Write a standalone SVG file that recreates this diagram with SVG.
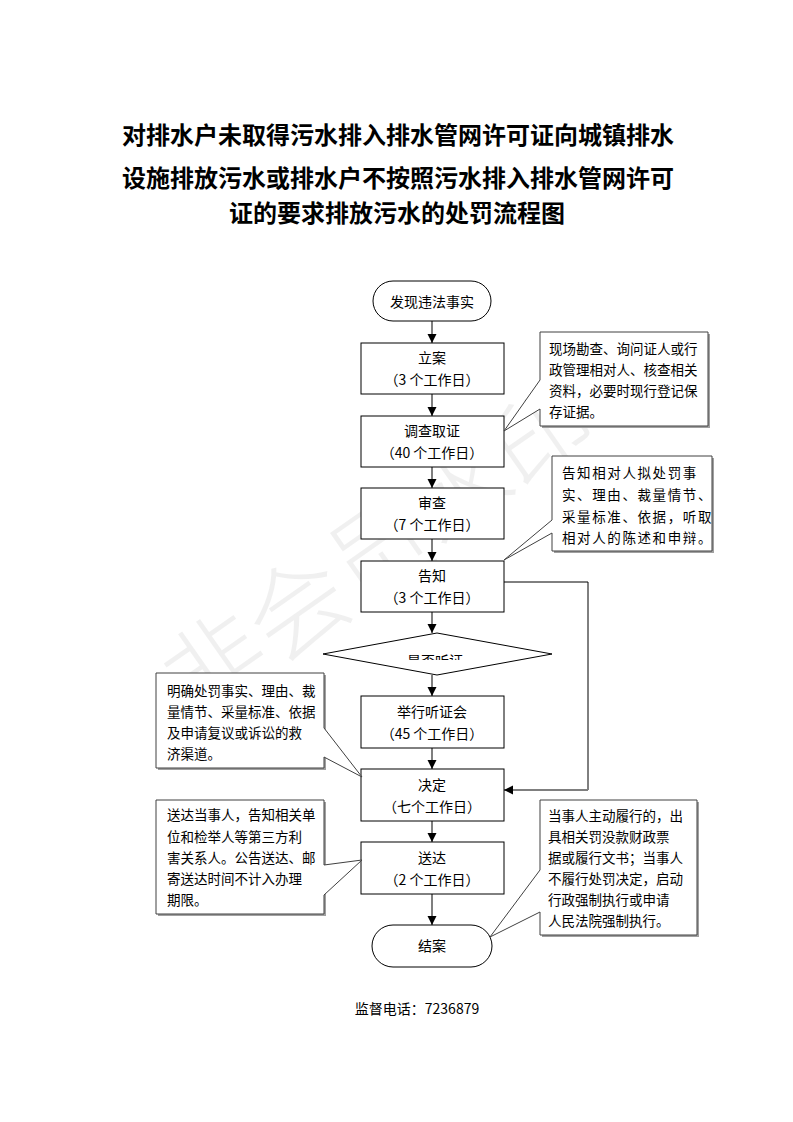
<svg xmlns="http://www.w3.org/2000/svg" width="793" height="1122" viewBox="0 0 793 1122">
<defs>
<style>
text{font-family:"Noto Sans CJK SC","Liberation Sans",sans-serif;fill:#000}
.title{font-size:24px;font-weight:bold;text-anchor:middle}
.t{font-size:14px;text-anchor:middle}
.c{font-size:13.5px}
.box{fill:#fff;stroke:#000;stroke-width:1}
.co{fill:#fff;stroke:#404040;stroke-width:1}
.sh{fill:#a0a0a0;stroke:none}
.flow{stroke:#7f7f7f;stroke-width:2;fill:none}
.thin{stroke:#000;stroke-width:1;fill:none}
.wm{font-size:100px;fill:#000;fill-opacity:0.06;text-anchor:middle;font-weight:300}
</style>
<marker id="ah" markerUnits="userSpaceOnUse" markerWidth="9" markerHeight="10" refX="9" refY="5" orient="auto">
<path d="M0,0.5 L9,5 L0,9.5 Z" fill="#000"/>
</marker>
<clipPath id="dclip"><rect x="300" y="600" width="300" height="60"/></clipPath>
</defs>
<rect width="793" height="1122" fill="#fff"/>
<text class="wm" transform="translate(400,580) rotate(-35)">非会员水印</text>

<g id="title">
<text class="title" x="398" y="144">对排水户未取得污水排入排水管网许可证向城镇排水</text>
<text class="title" x="398" y="187">设施排放污水或排水户不按照污水排入排水管网许可</text>
<text class="title" x="397" y="222">证的要求排放污水的处罚流程图</text>
</g>

<g id="connectors">
<line class="flow" x1="432" y1="321" x2="432" y2="343" marker-end="url(#ah)"/>
<line class="flow" x1="432" y1="394" x2="432" y2="416" marker-end="url(#ah)"/>
<line class="flow" x1="432" y1="467" x2="432" y2="488" marker-end="url(#ah)"/>
<line class="flow" x1="432" y1="539" x2="432" y2="561" marker-end="url(#ah)"/>
<line class="flow" x1="432" y1="612" x2="432" y2="633" marker-end="url(#ah)"/>
<line class="flow" x1="432" y1="675" x2="432" y2="696" marker-end="url(#ah)"/>
<line class="flow" x1="432" y1="748" x2="432" y2="769" marker-end="url(#ah)"/>
<line class="flow" x1="432" y1="821" x2="432" y2="842" marker-end="url(#ah)"/>
<line class="flow" x1="432" y1="894" x2="432" y2="925" marker-end="url(#ah)"/>
<polyline class="thin" points="504,582 588,582 588,790"/>
<line class="flow" x1="588" y1="790" x2="504" y2="790" marker-end="url(#ah)"/>
</g>

<g id="start">
<rect class="box" x="373" y="281" width="118" height="40" rx="20" ry="20"/>
<text class="t" x="432" y="307">发现违法事实</text>
</g>
<g id="lian">
<rect class="box" x="361" y="343" width="143" height="51"/>
<text class="t" x="432" y="363">立案</text>
<text class="t" x="432" y="385">（3 个工作日）</text>
</g>
<g id="diaocha">
<rect class="box" x="361" y="416" width="143" height="51"/>
<text class="t" x="432" y="436">调查取证</text>
<text class="t" x="432" y="458">（40 个工作日）</text>
</g>
<g id="shencha">
<rect class="box" x="361" y="488" width="143" height="51"/>
<text class="t" x="432" y="508">审查</text>
<text class="t" x="432" y="530">（7 个工作日）</text>
</g>
<g id="gaozhi">
<rect class="box" x="361" y="561" width="143" height="51"/>
<text class="t" x="432" y="581">告知</text>
<text class="t" x="432" y="603">（3 个工作日）</text>
</g>
<g id="decision">
<polygon class="box" points="437,633 552,654 437,675 323,654"/>
<text class="t" x="435" y="666" clip-path="url(#dclip)">是否听证</text>
</g>
<g id="tingzheng">
<rect class="box" x="361" y="696" width="143" height="52"/>
<text class="t" x="432" y="717">举行听证会</text>
<text class="t" x="432" y="739">（45 个工作日）</text>
</g>
<g id="jueding">
<rect class="box" x="361" y="769" width="143" height="52"/>
<text class="t" x="432" y="790">决定</text>
<text class="t" x="432" y="812">（七个工作日）</text>
</g>
<g id="songda">
<rect class="box" x="361" y="842" width="143" height="52"/>
<text class="t" x="432" y="863">送达</text>
<text class="t" x="432" y="885">（2 个工作日）</text>
</g>
<g id="end">
<rect class="box" x="372" y="925" width="120" height="42" rx="21" ry="21"/>
<text class="t" x="432" y="951">结案</text>
</g>

<g id="note1">
<path class="sh" d="M542,334 H710 V428 H542 Z"/>
<path class="co" d="M540,332 H708 V426 H540 V409 L504,431 L540,380 Z"/>
<text class="c" x="549" y="354">现场勘查、询问证人或行</text>
<text class="c" x="549" y="375">政管理相对人、核查相关</text>
<text class="c" x="549" y="396">资料，必要时现行登记保</text>
<text class="c" x="549" y="417">存证据。</text>
</g>
<g id="note2">
<path class="sh" d="M554,458 H714 V553 H554 Z"/>
<path class="co" d="M552,456 H712 V551 H552 V533 L504,560 L552,520 Z"/>
<text class="c" x="562" y="478" letter-spacing="1.6">告知相对人拟处罚事</text>
<text class="c" x="562" y="500" letter-spacing="1.6">实、理由、裁量情节、</text>
<text class="c" x="562" y="522" letter-spacing="1.6">采量标准、依据，听取</text>
<text class="c" x="562" y="543" letter-spacing="1.6">相对人的陈述和申辩。</text>
</g>
<g id="note3">
<path class="sh" d="M158,675 H326 V770 H158 Z"/>
<path class="co" d="M156,673 H324 V728 L362,777 L324,757 V768 H156 Z"/>
<text class="c" x="167" y="696">明确处罚事实、理由、裁</text>
<text class="c" x="167" y="717">量情节、采量标准、依据</text>
<text class="c" x="167" y="738">及申请复议或诉讼的救</text>
<text class="c" x="167" y="759">济渠道。</text>
</g>
<g id="note4">
<path class="sh" d="M158,802 H326 V916 H158 Z"/>
<path class="co" d="M156,800 H324 V865 L362,860 L324,895 V914 H156 Z"/>
<text class="c" x="167" y="820">送达当事人，告知相关单</text>
<text class="c" x="167" y="842">位和检举人等第三方利</text>
<text class="c" x="167" y="863">害关系人。公告送达、邮</text>
<text class="c" x="167" y="884">寄送达时间不计入办理</text>
<text class="c" x="167" y="905">期限。</text>
</g>
<g id="note5">
<path class="sh" d="M542,802 H699 V937 H542 Z"/>
<path class="co" d="M540,800 H697 V935 H540 V912 L490,937 L540,870 Z"/>
<text class="c" x="548" y="821">当事人主动履行的，出</text>
<text class="c" x="548" y="842">具相关罚没款财政票</text>
<text class="c" x="548" y="863">据或履行文书；当事人</text>
<text class="c" x="548" y="884">不履行处罚决定，启动</text>
<text class="c" x="548" y="905">行政强制执行或申请</text>
<text class="c" x="548" y="926">人民法院强制执行。</text>
</g>

<g id="footer">
<text class="t" x="417" y="1014">监督电话：7236879</text>
</g>
</svg>
